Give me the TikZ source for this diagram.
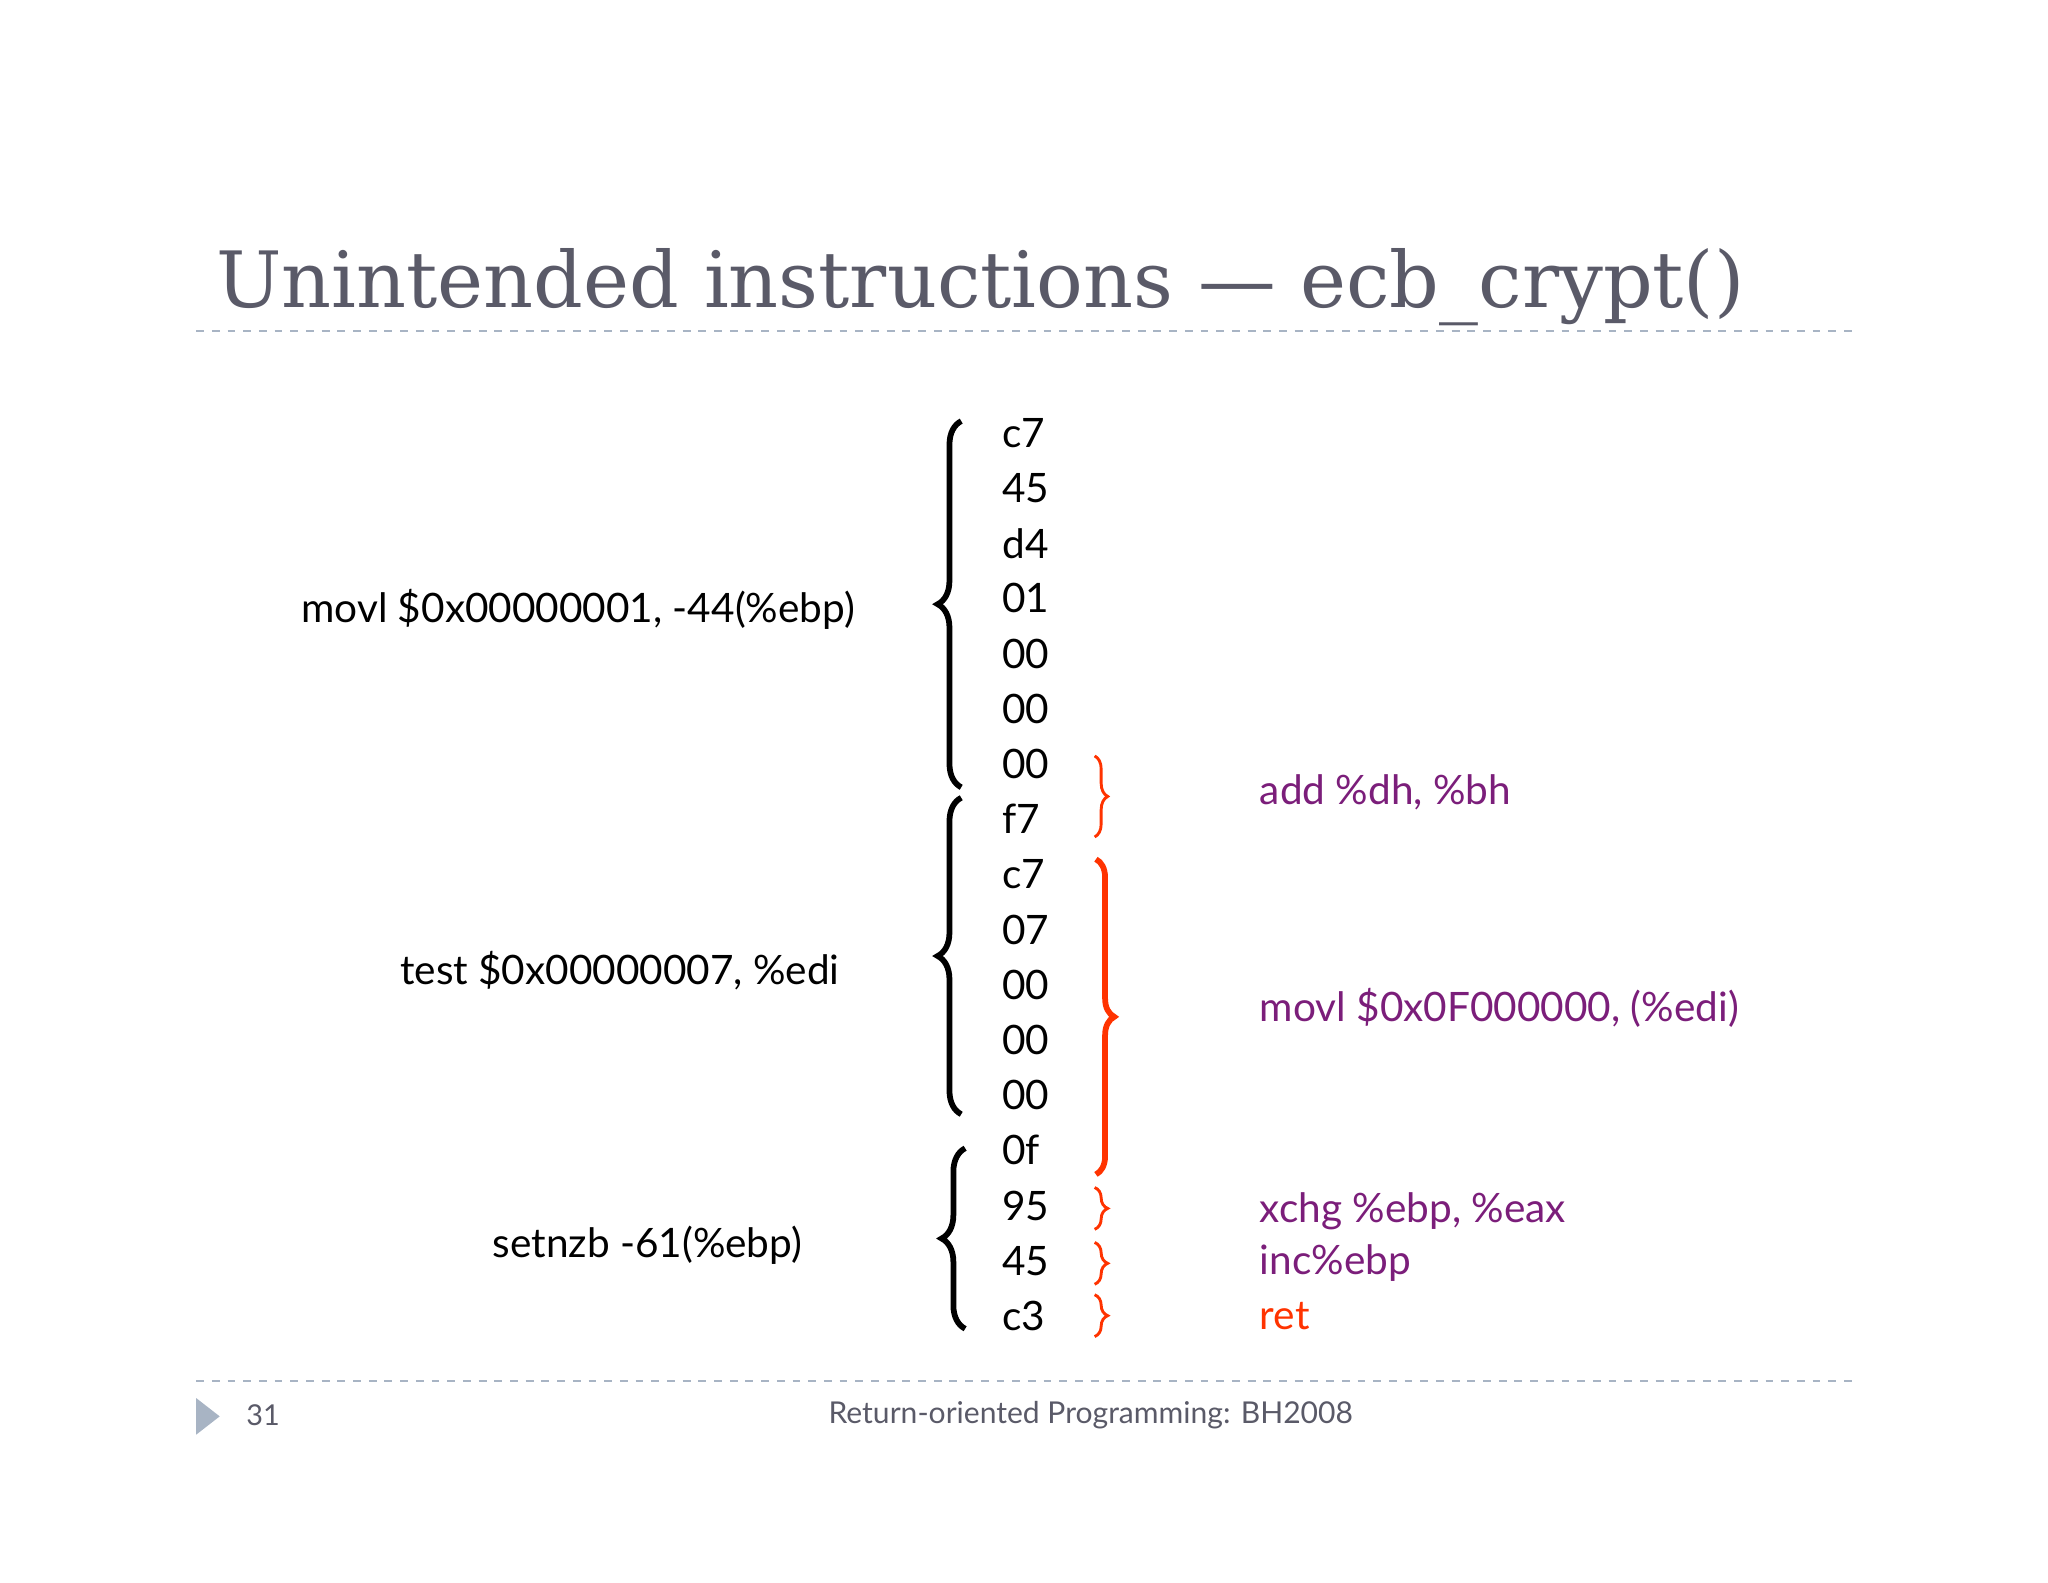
\documentclass[tikz,border=0pt]{standalone}
\usepackage{fontspec}
\setmainfont{Lato}
\newfontfamily\titlefont{DejaVu Serif}
\usetikzlibrary{decorations.pathreplacing}
\definecolor{ttl}{HTML}{5A5A68}
\definecolor{pur}{HTML}{7B1E7A}
\definecolor{rd}{HTML}{FF3300}
\definecolor{dsh}{HTML}{A8B4C4}
\begin{document}
\begin{tikzpicture}[x=0.5pt,y=-0.5pt,
  byte/.style={anchor=west,font=\fontsize{15.5}{15.5}\selectfont,inner sep=0},
  lbl/.style={font=\fontsize{15.5}{15.5}\selectfont,inner sep=0},
  plbl/.style={lbl,anchor=west,text=pur},
  bbrace/.style={decorate,decoration={brace,amplitude=9pt},line width=2.2pt},
  rbrace/.style={decorate,decoration={brace,amplitude=7pt},line width=2.2pt,rd},
  sbrace/.style={decorate,decoration={brace,amplitude=5pt},line width=1.1pt,rd}]
\useasboundingbox (0,0) rectangle (1566,1210);
\node[anchor=base west,inner sep=0,text=ttl,font=\titlefont\fontsize{29.7}{29.7}\selectfont] (title) at (165,235) {Unintended instructions — ecb\_crypt()};
\draw[dsh,dashed,line width=0.8pt] (150,253) -- (1418,253);
\draw[dsh,dashed,line width=0.8pt] (150,1056) -- (1418,1056);
\foreach \t [count=\i] in {c7,45,d4,01,00,00,00,f7,c7,07,00,00,00,0f,95,45,c3}{
  \node[byte] (b\i) at (766,{331+(\i-1)*42.2}) {\t};
}
\draw[bbrace] (735,602) -- (735,322);
\draw[bbrace] (735,852) -- (735,610);
\draw[bbrace] (738,1016) -- (738,878);
\node[lbl] (l1) at (442,466) {movl \$0x00000001, -44(\%ebp)};
\node[lbl] (l2) at (474,742) {test \$0x00000007, \%edi};
\node[lbl] (l3) at (495,952) {setnzb -61(\%ebp)};
\draw[sbrace] (837,578) -- (837,640);
\draw[rbrace] (838,657) -- (838,898);
\draw[sbrace] (837,908) -- (837,940);
\draw[sbrace] (837,950) -- (837,982);
\draw[sbrace] (837,990) -- (837,1022);
\node[plbl] (p1) at (963,606) {add \%dh, \%bh};
\node[plbl] (p2) at (963,771) {movl \$0x0F000000, (\%edi)};
\node[plbl] (p3) at (963,926) {xchg \%ebp, \%eax};
\node[plbl] (p4) at (963,966) {inc\%ebp};
\node[lbl,anchor=west,text=rd] (p5) at (963,1006) {ret};
\fill[dsh] (150,1069) -- (168,1083) -- (150,1097) -- cycle;
\node[anchor=west,inner sep=0,text=ttl,font=\fontsize{11}{11}\selectfont] (pg) at (188,1082) {31};
\node[inner sep=0,text=ttl,font=\fontsize{11.5}{11.5}\selectfont] (ft) at (834,1082) {Return-oriented Programming: BH2008};
\end{tikzpicture}
\end{document}
